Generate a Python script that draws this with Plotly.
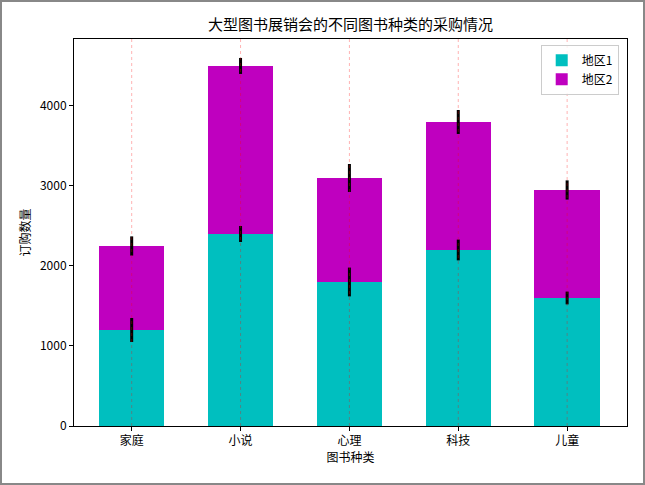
import plotly.graph_objects as go

categories = ["家庭", "小说", "心理", "科技", "儿童"]
region1 = [1200, 2400, 1800, 2200, 1600]
region2 = [1050, 2100, 1300, 1600, 1350]
err1 = [150, 100, 180, 130, 80]
err2 = [120, 100, 175, 150, 120]

W, H = 645, 485
L, R, T, B = 74, 18, 39, 59
pw, ph = W - L - R, H - T - B

FONT = "Noto Sans CJK SC"

totals = [a + b for a, b in zip(region1, region2)]

fig = go.Figure()
fig.add_trace(go.Bar(
    x=categories, y=region1, name="地区1", width=0.6,
    marker=dict(color="#00BFBF", line=dict(width=0)),
))
fig.add_trace(go.Bar(
    x=categories, y=region2, name="地区2", width=0.6,
    marker=dict(color="#BF00BF", line=dict(width=0)),
))
# error bars drawn on top of all bars
fig.add_trace(go.Scatter(
    x=categories, y=region1, mode="markers", marker=dict(size=0.1, opacity=0),
    showlegend=False, hoverinfo="skip",
    error_y=dict(type="data", array=err1, color="black", thickness=3, width=0),
))
fig.add_trace(go.Scatter(
    x=categories, y=totals, mode="markers", marker=dict(size=0.1, opacity=0),
    showlegend=False, hoverinfo="skip",
    error_y=dict(type="data", array=err2, color="black", thickness=3, width=0),
))

shapes = [dict(type="line", xref="x", yref="paper", x0=c, x1=c, y0=0, y1=1,
               line=dict(color="rgba(255,0,0,0.3)", width=1, dash="dot"), layer="above")
          for c in categories]
shapes.append(dict(type="rect", xref="paper", yref="paper",
                   x0=-(L - 1) / pw, x1=(W - L - 1) / pw,
                   y0=-(B - 1) / ph, y1=(H - B - 1) / ph,
                   line=dict(color="#888888", width=2), fillcolor="rgba(0,0,0,0)"))

fig.update_layout(
    barmode="stack",
    width=W, height=H,
    margin=dict(l=L, r=R, t=T, b=B),
    paper_bgcolor="white", plot_bgcolor="white",
    font=dict(family=FONT, size=12, color="black"),
    title=dict(text="大型图书展销会的不同图书种类的采购情况", x=(L + pw / 2) / W,
               xanchor="center", y=1 - 25 / H, yanchor="middle",
               font=dict(size=15, family=FONT)),
    showlegend=True,
    legend=dict(x=0.985, y=0.985, xanchor="right", yanchor="top",
                bordercolor="#cccccc", borderwidth=1, bgcolor="rgba(255,255,255,0.8)",
                font=dict(size=12, family=FONT), traceorder="normal",
                tracegroupgap=0, itemwidth=30),
    xaxis=dict(
        range=[-0.53, 4.55], showline=True, linecolor="black", linewidth=1, mirror=True,
        ticks="outside", ticklen=4, tickcolor="black",
        showgrid=False,
        title=dict(text="图书种类", font=dict(size=12), standoff=6),
    ),
    yaxis=dict(
        range=[0, 4837], showline=True, linecolor="black", linewidth=1, mirror=True,
        ticks="outside", ticklen=4, tickcolor="black",
        tickvals=[0, 1000, 2000, 3000, 4000], showgrid=False, zeroline=False,
        title=dict(text="订购数量", font=dict(size=12), standoff=6),
    ),
    shapes=shapes,
)

fig.write_html("out.html")
